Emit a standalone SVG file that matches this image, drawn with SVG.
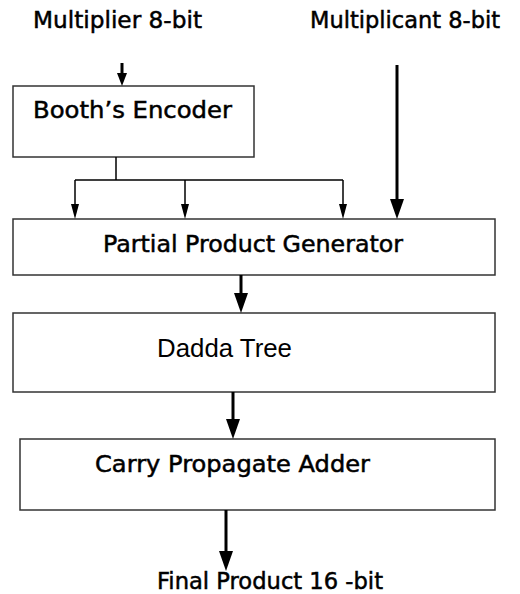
<svg xmlns="http://www.w3.org/2000/svg" width="520" height="594" viewBox="0 0 520 594">
  <style>
    .box { fill: #ffffff; stroke: #333333; stroke-width: 1.5; }
    .lbl { font-family: "DejaVu Sans", "Liberation Sans", sans-serif; font-size: 23px; fill: #000000; stroke: #000000; stroke-width: 0.5; }
    .arial { font-family: "Liberation Sans", Arial, sans-serif; font-size: 26px; fill: #000000; }
    .thick { fill: none; stroke: #000000; stroke-width: 3; }
    .thin { fill: none; stroke: #000000; stroke-width: 1.5; }
  </style>
  <defs>
    <marker id="headBig" markerUnits="userSpaceOnUse" markerWidth="20" markerHeight="16" viewBox="0 0 20 16" refX="0" refY="8" orient="auto">
      <path d="M0,1 L20,8 L0,15 Z" fill="#000000"/>
    </marker>
    <marker id="headMid" markerUnits="userSpaceOnUse" markerWidth="13" markerHeight="12" viewBox="0 0 13 12" refX="0" refY="6" orient="auto">
      <path d="M0,1 L13,6 L0,11 Z" fill="#000000"/>
    </marker>
    <marker id="headSmall" markerUnits="userSpaceOnUse" markerWidth="15" markerHeight="10" viewBox="0 0 15 10" refX="0" refY="5" orient="auto">
      <path d="M0,1 L15,5 L0,9 Z" fill="#000000"/>
    </marker>
  </defs>

  <rect width="520" height="594" fill="#ffffff"/>

  <!-- input labels -->
  <g id="in-multiplier">
    <text class="lbl" x="33" y="28" textLength="169" lengthAdjust="spacingAndGlyphs">Multiplier 8-bit</text>
  </g>
  <g id="in-multiplicand">
    <text class="lbl" x="310" y="28" textLength="190" lengthAdjust="spacingAndGlyphs">Multiplicant 8-bit</text>
  </g>

  <!-- processing blocks -->
  <g id="booth-encoder">
    <rect class="box" x="13" y="86" width="241" height="71"/>
    <text class="lbl" x="33" y="118" textLength="199" lengthAdjust="spacingAndGlyphs">Booth’s Encoder</text>
  </g>
  <g id="pp-generator">
    <rect class="box" x="13" y="219" width="482" height="56"/>
    <text class="lbl" x="103" y="252" textLength="300" lengthAdjust="spacingAndGlyphs">Partial Product Generator</text>
  </g>
  <g id="dadda-tree">
    <rect class="box" x="13" y="313" width="482" height="79"/>
    <text class="arial" x="157" y="357" textLength="135" lengthAdjust="spacingAndGlyphs">Dadda Tree</text>
  </g>
  <g id="cpa">
    <rect class="box" x="20" y="439" width="475" height="71"/>
    <text class="lbl" x="95" y="472" textLength="275" lengthAdjust="spacingAndGlyphs">Carry Propagate Adder</text>
  </g>
  <g id="out-product">
    <text class="lbl" x="157" y="589" textLength="226" lengthAdjust="spacingAndGlyphs">Final Product 16 -bit</text>
  </g>

  <!-- connectors -->
  <g id="connectors">
    <path class="thick" d="M122,63 L122,73" marker-end="url(#headMid)"/>
    <path class="thick" d="M397,65 L397,199" marker-end="url(#headBig)"/>
    <path class="thin" d="M116,157 L116,180 M75,180 L343,180"/>
    <path class="thin" d="M75,180 L75,204" marker-end="url(#headSmall)"/>
    <path class="thin" d="M185,180 L185,204" marker-end="url(#headSmall)"/>
    <path class="thin" d="M343,180 L343,204" marker-end="url(#headSmall)"/>
    <path class="thick" d="M241,275 L241,293" marker-end="url(#headBig)"/>
    <path class="thick" d="M233,392 L233,419" marker-end="url(#headBig)"/>
    <path class="thick" d="M226,510 L226,551" marker-end="url(#headBig)"/>
  </g>
</svg>
